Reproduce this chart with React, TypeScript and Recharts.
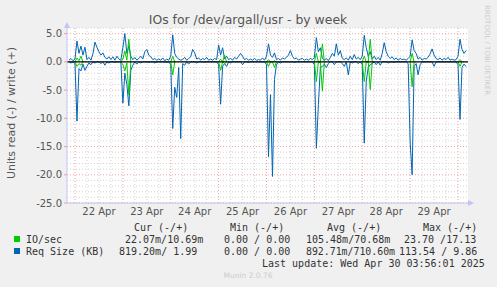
// IOs for /dev/argall/usr — Munin weekly disk IO graph redrawn with Recharts
import { CartesianGrid, Line, LineChart, ReferenceLine, XAxis, YAxis } from 'recharts';

const dayLabels = ['22 Apr', '23 Apr', '24 Apr', '25 Apr', '26 Apr', '27 Apr', '28 Apr', '29 Apr'];
// hours since 22 Apr 00:00 at which each day label sits (midday)
const dayLabelHours = [12, 36, 60, 84, 108, 132, 156, 180];
const yTicks = [-25, -20, -15, -10, -5, 0, 5];

// first sample is 21 Apr 21:00, one sample per hour
const firstHour = -3;

// Req Size (KB), write (+)
const reqWrite = [
  0.3, 0.6, 0.2,
  0.5, 3.7, 1.5, 2.8, 1.2, 2.6, 0.4, 0.8, 0.3, 1.4, 3.5, 2.6, 1.8, 1.2, 1.6, 0.8, 0.5, 0.9, 0.4, 0.9, 0.3, 1.0, 0.5, 0.3,
  2.5, 5.0, 1.5, 2.8, 1.0, 0.4, 0.8, 0.3, 0.6, 1.0, 0.5, 1.8, 2.2, 1.2, 0.9, 0.4, 0.6, 0.3, 0.5, 0.3, 0.7, 0.2, 0.5, 0.3,
  1.0, 4.8, 1.5, 0.8, 0.5, 0.3, 0.4, 0.8, 0.3, 0.6, 0.9, 2.2, 1.6, 0.5, 0.7, 0.3, 0.6, 0.4, 0.8, 0.3, 0.5, 0.3, 0.6, 0.4,
  3.0, 1.2, 2.5, 0.5, 1.0, 0.4, 0.6, 0.3, 0.8, 0.5, 1.0, 1.5, 1.0, 0.4, 0.6, 0.3, 0.5, 0.3, 0.6, 0.3, 0.4, 0.3, 0.7, 0.3,
  1.0, 3.2, 1.2, 0.8, 1.6, 0.4, 0.6, 0.3, 0.7, 0.5, 0.8, 1.2, 2.0, 1.0, 0.5, 0.7, 0.3, 0.5, 0.6, 0.3, 0.5, 0.3, 0.6, 0.4,
  0.8, 4.3, 1.8, 2.5, 0.6, 0.3, 0.6, 0.2, 0.8, 1.5, 1.0, 3.2, 1.2, 2.0, 0.6, 0.4, 0.7, 0.3, 1.0, 0.4, 1.3, 0.5, 0.8, 0.4,
  1.0, 4.7, 2.5, 1.0, 1.8, 0.5, 1.0, 0.4, 0.8, 0.3, 1.5, 3.4, 1.8, 1.0, 0.6, 0.9, 0.4, 0.7, 0.3, 0.6, 0.4, 0.5, 0.3, 0.6,
  1.0, 3.9, 2.0, 1.5, 0.5, 0.8, 0.3, 0.6, 0.5, 0.8, 1.4, 2.3, 1.2, 0.6, 0.4, 0.7, 0.3, 0.6, 0.4, 0.8, 0.3, 0.5, 0.3, 0.4,
  1.0, 4.0, 2.2, 1.5, 2.0,
];

// Req Size (KB), read (-)
const reqRead = [
  0, -0.2, 0,
  -0.3, -10.5, -1.2, -1.6, -0.4, -1.5, -0.8, -0.2, -0.5, 0, -0.2, 0, 0, -0.3, 0, -0.6, 0, -0.2, 0, 0, -0.1, 0, 0, 0,
  -7.3, -2.0, -4.0, -7.8, -1.5, -0.6, 0, -0.4, 0, -0.2, 0, 0, 0, -0.1, 0, 0, -0.2, 0, 0, 0, 0, 0, -0.1, 0,
  -0.5, -11.8, -4.5, -6.3, -1.0, -13.6, -0.3, -0.6, 0, -0.4, 0, 0, 0, -0.2, 0, 0, 0, -0.1, 0, 0, 0, 0, 0, 0,
  -0.5, -7.5, -0.8, -0.3, -0.8, 0, -0.2, 0, 0, 0, 0, 0, -0.5, 0, 0, -0.1, 0, 0, 0, 0, 0, 0, 0, 0,
  -0.5, -16.8, -5.8, -20.3, -3.1, -0.5, 0, -0.2, 0, 0, 0, 0, 0, 0, -0.1, 0, 0, 0, 0, 0, 0, 0, 0, 0,
  -0.5, -15.3, -7.6, -1.0, -0.8, -0.4, -1.0, -0.3, 0, 0, -0.5, 0, 0, 0, -0.3, -0.8, 0, -2.3, 0, -0.2, 0, 0, -0.3, 0,
  -0.5, -14.4, -3.4, -1.0, -0.5, -0.3, 0, -0.5, 0, -0.6, 0, 0, 0, -0.2, 0, 0, -0.1, 0, 0, 0, 0, 0, 0, -0.3,
  -14.2, -20.0, -0.8, -0.3, -2.3, -0.5, 0, 0, 0, 0, 0, 0, -0.8, 0, 0, 0, 0, 0, 0, 0, 0, 0, 0, 0,
  -0.5, -10.2, -1.0, -0.4, -0.8,
];

// IO/sec only leaves the zero line around the nightly bursts: [hour, write, read]
const ioBursts: [number, number, number][] = [
  [0, 0, 0], [1, 0.7, -0.8], [2, 0.2, -0.3], [3, 1.0, -0.6], [4, 0, 0],
  [23, 0, 0], [24, 0.5, -0.5], [25, 1.9, -1.6], [26, 0.3, -0.2], [27, 4.0, -5.8], [28, 0, 0],
  [48, 0, 0], [49, 1.0, -2.3], [50, 0, 0],
  [72, 0, 0], [73, 0.5, -1.5], [74, 0, 0], [75, 1.2, -0.3], [76, 0, 0],
  [96, 0, 0], [97, 0.4, -0.8], [98, 0, 0], [99, 0, 0], [100, 0.2, -1.0], [101, 0, 0],
  [120, 0, 0], [121, 1.5, -3.5], [122, 0, 0], [123, 0, 0], [124, 3.2, -5.2], [125, 0, 0],
  [144, 0, 0], [145, 1.0, -3.5], [146, 0, 0], [147, 0, 0], [148, 4.0, -4.9], [149, 0, 0],
  [168, 0, 0], [169, 1.5, -4.4], [170, 0, 0],
  [192, 0, 0], [193, 0.4, -0.8], [194, 0, 0],
];

const rows = reqWrite.map((w, i) => {
  const hour = firstHour + i;
  const io = ioBursts.find((b) => b[0] === hour);
  return {
    hour,
    reqWrite: w,
    reqRead: reqRead[i],
    ioWrite: io ? io[1] : null,
    ioRead: io ? io[2] : null,
  };
});

// grid: red every day / every 5 units, grey every 6 hours / every unit
const dayLines: number[] = [];
const sixHourLines: number[] = [];
for (let h = 0; h <= 196; h += 6) (h % 24 === 0 ? dayLines : sixHourLines).push(h);
const unitLines: number[] = [];
for (let v = -24; v <= 6; v++) if (v % 5 !== 0) unitLines.push(v);

const GREEN = '#00cc00';
const BLUE = '#0066b3';
const MINOR = '#d4d4d4';
const MAJOR = '#f2a0a0';
const AXIS = '#c4c4f4';
const SANS = '"DejaVu Sans", sans-serif';
const MONO = '"DejaVu Sans Mono", monospace';

export default function App() {
  return (
    <div style={{ position: 'absolute', left: 0, top: 0, width: 497, height: 287, background: '#f0f0f0' }}>
      <LineChart
        width={497}
        height={287}
        data={rows}
        margin={{ top: 28, right: 29, bottom: 64, left: 27 }}
      >
        <CartesianGrid fill="#ffffff" horizontal={false} vertical={false} />
        {sixHourLines.map((h) => (
          <ReferenceLine key={'m' + h} x={h} stroke={MINOR} strokeDasharray="1 2" />
        ))}
        {unitLines.map((v) => (
          <ReferenceLine key={'u' + v} y={v} stroke={MINOR} strokeDasharray="1 2" />
        ))}
        {dayLines.map((h) => (
          <ReferenceLine key={'d' + h} x={h} stroke={MAJOR} strokeDasharray="1 2" />
        ))}
        {yTicks.map((v) => (
          <ReferenceLine key={'y' + v} y={v} stroke={MAJOR} strokeDasharray="1 2" />
        ))}
        <XAxis
          dataKey="hour"
          type="number"
          domain={[-4, 197]}
          ticks={dayLabelHours}
          tickFormatter={(h) => dayLabels[dayLabelHours.indexOf(h)] ?? ''}
          height={20}
          tickLine={false}
          tickSize={3}
          tickMargin={2}
          axisLine={{ stroke: AXIS }}
          tick={{ fontSize: 10, fill: '#555', fontFamily: SANS }}
          allowDataOverflow
        />
        <YAxis
          type="number"
          domain={[-25, 6]}
          ticks={yTicks}
          tickFormatter={(v) => Number(v).toFixed(1)}
          width={40}
          tickLine={{ stroke: MAJOR }}
          tickSize={3}
          tickMargin={2}
          axisLine={{ stroke: AXIS }}
          tick={{ fontSize: 10, fill: '#555', fontFamily: SANS }}
          allowDataOverflow
        />
        <Line dataKey="reqWrite" stroke={BLUE} strokeWidth={1} dot={false} isAnimationActive={false} />
        <Line dataKey="reqRead" stroke={BLUE} strokeWidth={1} dot={false} isAnimationActive={false} />
        <Line dataKey="ioWrite" stroke={GREEN} strokeWidth={1} dot={false} isAnimationActive={false} />
        <Line dataKey="ioRead" stroke={GREEN} strokeWidth={1} dot={false} isAnimationActive={false} />
        <ReferenceLine y={0} stroke="#000" strokeWidth={1.2} />
      </LineChart>

      <svg
        width={497}
        height={287}
        style={{ position: 'absolute', left: 0, top: 0, pointerEvents: 'none' }}
      >
        <text x={248} y={24} textAnchor="middle" fontSize={12.4} fill="#555" fontFamily={SANS}>
          IOs for /dev/argall/usr - by week
        </text>
        <text
          transform="translate(15,113) rotate(-90)"
          textAnchor="middle"
          fontSize={11}
          fill="#555"
          fontFamily={SANS}
        >
          Units read (-) / write (+)
        </text>
        <text transform="translate(485,5) rotate(90)" fontSize={7} fill="#cccccc" fontFamily={SANS}>
          RRDTOOL / TOBI OETIKER
        </text>
        {/* axis arrows */}
        <path d="M64 28 L70 28 L67 22 Z" fill={AXIS} />
        <path d="M468 200 L468 206 L474 203 Z" fill={AXIS} />

        <g fontFamily={MONO} fontSize={10} fill="#333" style={{ whiteSpace: 'pre' }}>
          <text x={134} y={231}>Cur (-/+)</text>
          <text x={230} y={231}>Min (-/+)</text>
          <text x={327} y={231}>Avg (-/+)</text>
          <text x={423} y={231}>Max (-/+)</text>

          <rect x={14} y={236} width={6} height={6} fill={GREEN} />
          <text x={26} y={243}>IO/sec</text>
          <text x={125} y={243}>22.07m/10.69m</text>
          <text x={224} y={243}>0.00 / 0.00</text>
          <text x={306} y={243}>105.48m/70.68m</text>
          <text x={404} y={243}>23.70 /17.13</text>

          <rect x={14} y={248} width={6} height={6} fill={BLUE} />
          <text x={26} y={255}>Req Size (KB)</text>
          <text x={119} y={255}>819.20m/ 1.99</text>
          <text x={224} y={255}>0.00 / 0.00</text>
          <text x={306} y={255} textLength={89} lengthAdjust="spacingAndGlyphs">892.71m/710.60m</text>
          <text x={399} y={255}>113.54 / 9.86</text>

          <text x={262} y={267}>Last update: Wed Apr 30 03:56:01 2025</text>
        </g>
        <text x={248} y={278} textAnchor="middle" fontSize={7.5} fill="#cccccc" fontFamily={SANS}>
          Munin 2.0.76
        </text>
      </svg>
    </div>
  );
}
